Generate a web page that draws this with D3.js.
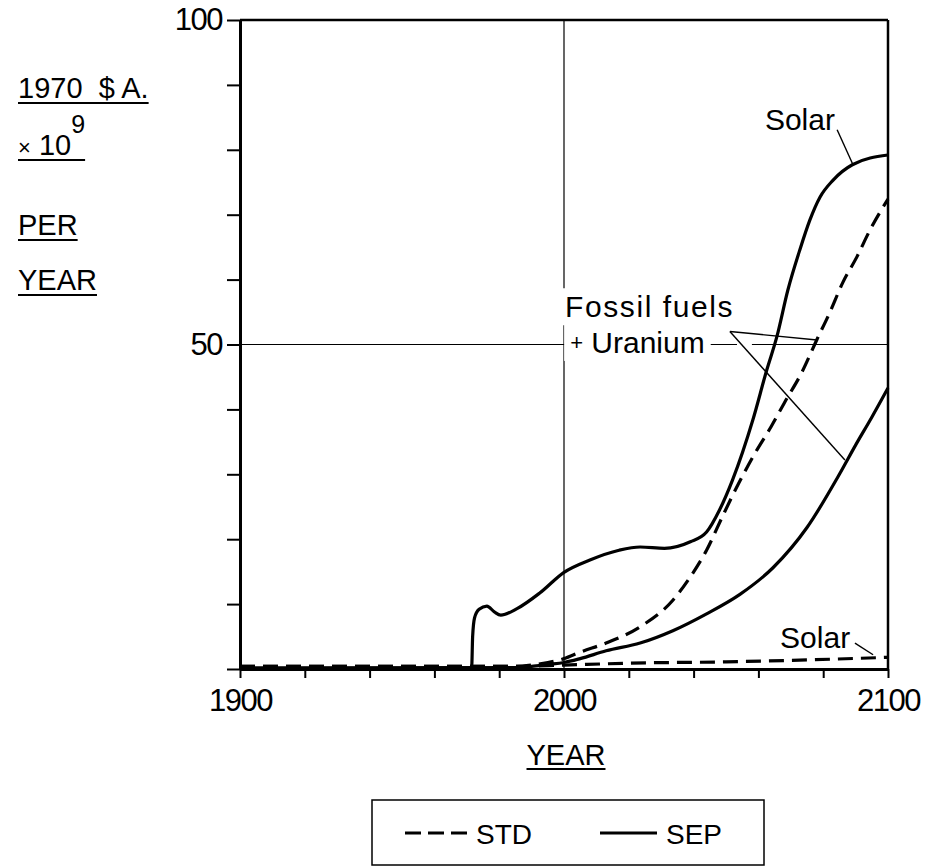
<!DOCTYPE html>
<html lang="en">
<head>
<meta charset="utf-8">
<title>Annual investment, STD and SEP</title>
<style>
  body { margin: 0; background: #fff; }
  svg { display: block; font-family: "Liberation Sans", Arial, sans-serif; }
  text { fill: #000; }
</style>
</head>
<body>
<svg width="944" height="866"></svg>
<script src="https://cdn.jsdelivr.net/npm/d3@7"></script>
<script>
// values: [year, 1970 $A x 10^9 per year]
var sepSolar = [[1900,0.15],[1950,0.15],[1971.5,0.2],[1971.8,5.0],[1972.4,7.9],[1973.8,9.2],[1976.2,9.7],
  [1978.5,8.8],[1980.5,8.3],[1985.5,9.3],[1992.5,11.7],[2000,14.9],[2008,16.8],[2017,18.3],[2023.5,18.8],
  [2031,18.6],[2039,19.6],[2044,21.1],[2048,24.5],[2052,29.1],[2058.3,38.4],[2062.6,46.1],[2065.7,51.2],
  [2069.1,58.4],[2072.8,64.6],[2075.9,69.2],[2079,72.7],[2083,75.3],[2089,77.7],[2100,79.2]];
var sepFossil = [[1900,0.15],[1985,0.2],[1990,0.4],[1995,0.7],[2000,1.0],[2005,1.6],[2013,2.8],[2023.5,4.0],
  [2033.6,5.9],[2044,8.5],[2054.3,11.5],[2064.5,15.6],[2075,21.8],[2085,30.0],[2090,34.5],[2095,38.8],[2100,43.3]];
var stdFossil = [[1900,0.4],[1985,0.4],[1990,0.6],[1995,1.0],[2000,1.6],[2005,2.6],[2013,4.0],[2023.5,6.5],
  [2033.6,10.6],[2039,14.2],[2044,18.3],[2049,23.6],[2054,28.7],[2059,33.3],[2064,37.4],[2068,41.0],
  [2073.5,45.8],[2078,50.7],[2082,54.9],[2086,59.5],[2090.4,63.5],[2094.4,67.6],[2100,72.4]];
var stdSolar = [[1900,0.4],[1985,0.4],[2000,0.6],[2020,0.9],[2050,1.1],[2075,1.4],[2100,1.8]];

var xTicks = d3.range(1900, 2101, 20);
var xLabels = [1900, 2000, 2100];
var yTicks = d3.range(0, 101, 10);
var yLabels = [50, 100];
var legendNames = ["STD", "SEP"];

var svg = d3.select("svg");
var x = d3.scaleLinear().domain([1900, 2100]).range([240, 888]);
var y = d3.scaleLinear().domain([0, 100]).range([669, 20]);

// grid at 2000 and 50
svg.append("line").attr("x1", x(2000)).attr("x2", x(2000)).attr("y1", y(100)).attr("y2", y(0))
  .attr("stroke", "#000").attr("stroke-width", 1.2);
svg.append("line").attr("x1", x(1900)).attr("x2", x(2100)).attr("y1", y(50)).attr("y2", y(50))
  .attr("stroke", "#000").attr("stroke-width", 1.2);

// frame top + right
svg.append("line").attr("x1", x(1900)).attr("x2", x(2100)).attr("y1", y(100)).attr("y2", y(100))
  .attr("stroke", "#000").attr("stroke-width", 2.5);
svg.append("line").attr("x1", x(2100)).attr("x2", x(2100)).attr("y1", y(100)).attr("y2", y(0))
  .attr("stroke", "#000").attr("stroke-width", 2.5);

var gy = svg.append("g").attr("transform", "translate(" + x(1900) + ",0)")
  .call(d3.axisLeft(y).tickValues(yTicks).tickSize(13).tickSizeOuter(0).tickPadding(5)
    .tickFormat(function(d) { return yLabels.indexOf(d) >= 0 ? d : ""; }));
var gx = svg.append("g").attr("transform", "translate(0," + y(0) + ")")
  .call(d3.axisBottom(x).tickValues(xTicks).tickSize(9).tickSizeOuter(0).tickPadding(11)
    .tickFormat(function(d) { return xLabels.indexOf(d) >= 0 ? d : ""; }));
[gy, gx].forEach(function(g) {
  g.attr("font-family", null).attr("font-size", null);
  g.select(".domain").attr("stroke-width", 3);
  g.selectAll(".tick line").attr("stroke-width", 2);
  g.selectAll(".tick text").attr("font-size", 31).attr("letter-spacing", -1.5);
});

// annotation text with white backing (breaks the grid lines like the original)
function label(txt, p, size, spacing) {
  var t = svg.append("text").attr("x", x(p[0])).attr("y", y(p[1]))
    .attr("font-size", size).attr("letter-spacing", spacing || 0).text(txt);
  return t;
}
function backing(t, pad) {
  var b = t.node().getBBox();
  svg.insert("rect", function() { return t.node(); })
    .attr("x", b.x - pad).attr("y", b.y - 2).attr("width", b.width + 2 * pad).attr("height", b.height + 4)
    .attr("fill", "#fff");
}

var fossil1 = label("Fossil fuels", [2000.3, 54.2], 30, 1.6);
backing(fossil1, 5);
var fossil2 = svg.append("text").attr("x", x(2001.9)).attr("y", y(48.7)).attr("font-size", 30);
fossil2.append("tspan").attr("font-size", 22).attr("dy", -3).text("+");
fossil2.append("tspan").attr("dy", 3).text(" Uranium");
backing(fossil2, 6);
// small break in the 50 line where the leaders leave
svg.append("line").attr("x1", x(2053.4)).attr("x2", x(2058)).attr("y1", y(50)).attr("y2", y(50))
  .attr("stroke", "#fff").attr("stroke-width", 3);

label("Solar", [2062, 83.1], 30, 0);
label("Solar", [2066.7, 3.2], 30, 0);

var leaders = [
  [[2051.2, 52.0], [2078.1, 50.7]],
  [[2051.2, 52.0], [2086.7, 32.2]],
  [[2084.3, 83.1], [2089.2, 77.7]],
  [[2089.8, 4.0], [2095.4, 2.2]]
];
var straight = d3.line().x(function(d) { return x(d[0]); }).y(function(d) { return y(d[1]); });
svg.selectAll(".leader").data(leaders).enter().append("path").attr("class", "leader")
  .attr("d", straight).attr("fill", "none").attr("stroke", "#000").attr("stroke-width", 1.4);

// curves
var curve = d3.line().x(function(d) { return x(d[0]); }).y(function(d) { return y(d[1]); })
  .curve(d3.curveMonotoneX);
var series = [
  { data: stdSolar, dash: "15,8" },
  { data: stdFossil, dash: "15,8" },
  { data: sepFossil, dash: null },
  { data: sepSolar, dash: null }
];
svg.selectAll(".series").data(series).enter().append("path").attr("class", "series")
  .attr("d", function(d) { return curve(d.data); })
  .attr("fill", "none").attr("stroke", "#000").attr("stroke-width", 3.2)
  .attr("stroke-dasharray", function(d) { return d.dash; });

// y units, underlined
var units = [
  { y: 98, parts: [["1970  $ A.", 29, 0]] },
  { y: 155, parts: [["×", 22, 0], [" 10", 29, 0], ["9", 25, -22]] },
  { y: 235, parts: [["PER", 29, 0]] },
  { y: 290, parts: [["YEAR", 29, 0]] }
];
units.forEach(function(u) {
  var t = svg.append("text").attr("x", 18).attr("y", u.y).attr("xml:space", "preserve")
    .style("white-space", "pre");
  u.parts.forEach(function(p) { t.append("tspan").attr("font-size", p[1]).attr("dy", p[2]).text(p[0]); });
  var b = t.node().getBBox();
  svg.append("line").attr("x1", 18).attr("x2", b.x + b.width).attr("y1", u.y + 5).attr("y2", u.y + 5)
    .attr("stroke", "#000").attr("stroke-width", 1.8);
});

// x title
var xt = svg.append("text").attr("x", x(2000) + 2).attr("y", 765).attr("text-anchor", "middle")
  .attr("font-size", 29).text("YEAR");
var xb = xt.node().getBBox();
svg.append("line").attr("x1", xb.x).attr("x2", xb.x + xb.width).attr("y1", 769).attr("y2", 769)
  .attr("stroke", "#000").attr("stroke-width", 1.8);

// legend
var lg = svg.append("g");
lg.append("rect").attr("x", 372).attr("y", 800).attr("width", 392).attr("height", 65)
  .attr("fill", "none").attr("stroke", "#000").attr("stroke-width", 1.5);
var items = [
  { name: legendNames[0], x0: 405, x1: 467, dash: "16,7" },
  { name: legendNames[1], x0: 600, x1: 657, dash: null }
];
items.forEach(function(it) {
  lg.append("line").attr("x1", it.x0).attr("x2", it.x1).attr("y1", 833).attr("y2", 833)
    .attr("stroke", "#000").attr("stroke-width", 3.2).attr("stroke-dasharray", it.dash);
  lg.append("text").attr("x", it.x1 + 9).attr("y", 844).attr("font-size", 28).text(it.name);
});
</script>
</body>
</html>
